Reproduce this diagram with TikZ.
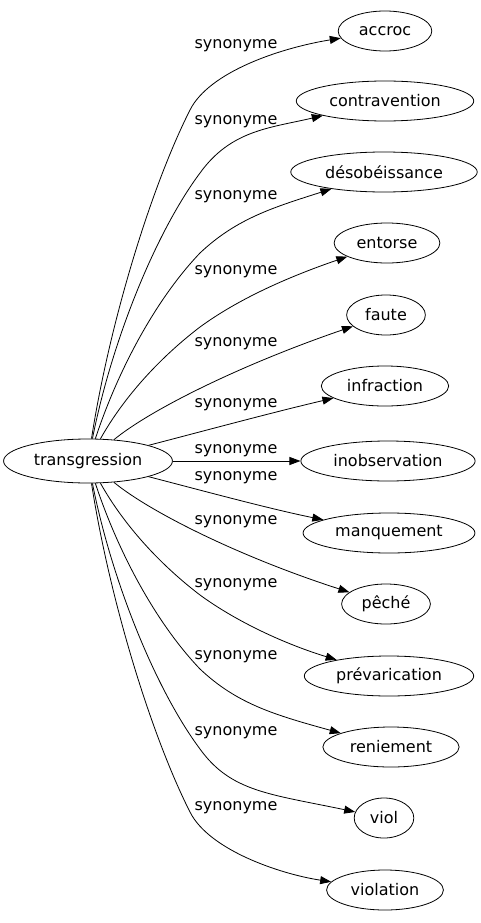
\documentclass[tikz,border=0pt]{standalone}
\usepackage{fontspec}
\setmainfont{DejaVu Sans}
\usetikzlibrary{shapes.geometric,arrows.meta}
\begin{document}
\begin{tikzpicture}[x=1pt,y=-1pt,
  word/.style={ellipse,draw,line width=0.8pt,inner xsep=7pt,inner ysep=0pt,minimum height=40pt,font=\fontsize{16}{16}\selectfont},
  lab/.style={font=\fontsize{16}{16}\selectfont,inner sep=0pt},
  rel/.style={line width=0.8pt,-{Triangle[length=11pt,width=8pt]}}]
\useasboundingbox (0,0) rectangle (480,923);
\node[word,minimum height=44pt,inner xsep=5.5pt] (t) at (88,461) {transgression};
\node[word] (n1) at (385,31) {accroc};
\node[word] (n2) at (385,101) {contravention};
\node[word] (n3) at (384,172) {désobéissance};
\node[word] (n4) at (387,243) {entorse};
\node[word] (n5) at (386,315) {faute};
\node[word] (n6) at (385,386) {infraction};
\node[word] (n7) at (388,461) {inobservation};
\node[word] (n8) at (389,533) {manquement};
\node[word] (n9) at (386,604) {pêché};
\node[word] (n10) at (389,676) {prévarication};
\node[word] (n11) at (391,747) {reniement};
\node[word] (n12) at (384,818) {viol};
\node[word] (n13) at (385,890) {violation};
\node[lab] (l1) at (236,46) {synonyme};
\node[lab] (l2) at (236,122) {synonyme};
\node[lab] (l3) at (236,197) {synonyme};
\node[lab] (l4) at (236,272) {synonyme};
\node[lab] (l5) at (236,344) {synonyme};
\node[lab] (l6) at (236,405) {synonyme};
\node[lab] (l7) at (236,451) {synonyme};
\node[lab] (l8) at (236,478) {synonyme};
\node[lab] (l9) at (236,522) {synonyme};
\node[lab] (l10) at (236,585) {synonyme};
\node[lab] (l11) at (236,657) {synonyme};
\node[lab] (l12) at (236,733) {synonyme};
\node[lab] (l13) at (236,808) {synonyme};
\draw[rel] (t) .. controls (110,320) and (152,185) .. (190,110) .. controls (209,72) and (280,48) .. (n1);
\draw[rel] (t) .. controls (112,340) and (156,232) .. (200,173) .. controls (231,130) and (270,128) .. (n2);
\draw[rel] (t) .. controls (118,370) and (156,299) .. (200,253) .. controls (237,218) and (275,207) .. (n3);
\draw[rel] (t) .. controls (125,395) and (162,356) .. (200,327) .. controls (237,300) and (285,278) .. (n4);
\draw[rel] (t) .. controls (150,410) and (240,365) .. (n5);
\draw[rel] (t) .. controls (200,432) and (270,413) .. (n6);
\draw[rel] (t) -- (n7);
\draw[rel] (t) .. controls (200,490) and (270,509) .. (n8);
\draw[rel] (t) .. controls (150,512) and (240,557) .. (n9);
\draw[rel] (t) .. controls (125,527) and (162,566) .. (200,595) .. controls (237,622) and (285,644) .. (n10);
\draw[rel] (t) .. controls (118,552) and (156,623) .. (200,669) .. controls (237,704) and (275,715) .. (n11);
\draw[rel] (t) .. controls (112,582) and (156,690) .. (200,749) .. controls (231,792) and (270,794) .. (n12);
\draw[rel] (t) .. controls (110,602) and (152,737) .. (190,812) .. controls (209,850) and (280,874) .. (n13);
\end{tikzpicture}
\end{document}
